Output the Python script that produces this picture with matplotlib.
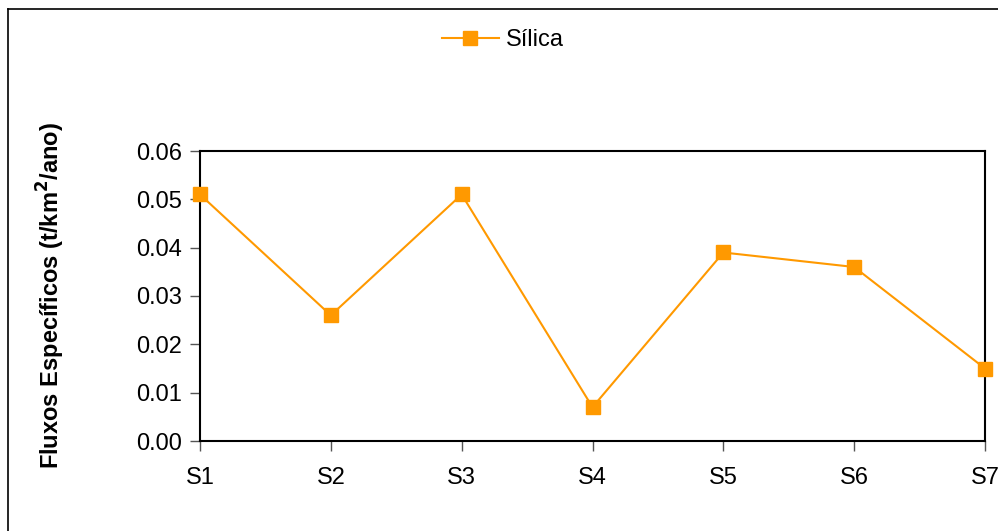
import matplotlib.pyplot as plt
from matplotlib.lines import Line2D

plt.rcParams['font.family'] = ['Liberation Sans', 'DejaVu Sans']

sites = ["S1", "S2", "S3", "S4", "S5", "S6", "S7"]
silica = [0.051, 0.026, 0.051, 0.007, 0.039, 0.036, 0.015]
yticks = [0.00, 0.01, 0.02, 0.03, 0.04, 0.05, 0.06]

fig = plt.figure(figsize=(9.98, 5.31), dpi=100)
ax = fig.add_axes([200/998, 1 - 441/531, 785/998, 290/531])

x = list(range(len(sites)))
ax.plot(x, silica, color='#FF9900', linewidth=1.5, marker='s', markersize=9.5,
        markeredgecolor='#FF9900', clip_on=False, label='Sílica', zorder=3)

ax.set_xlim(0, len(sites) - 1)
ax.set_ylim(0, 0.06)
ax.set_xticks(x)
ax.set_xticklabels(sites)
ax.set_yticks(yticks)
ax.set_yticklabels([f"{v:.2f}" for v in yticks])
ax.tick_params(axis='both', labelsize=17, length=7, width=1, color='#555555',
               direction='out')
ax.tick_params(axis='x', pad=12)
ax.tick_params(axis='y', pad=6)
for s in ax.spines.values():
    s.set_linewidth(1.5)
    s.set_color('black')

ax.set_ylabel("Fluxos Específicos (t/km$^\\mathbf{2}$/ano)", fontsize=17,
              fontweight='bold')
ax.yaxis.set_label_coords(-0.170, 0.5)

fig.legend(handles=ax.get_lines(), loc='center', bbox_to_anchor=(503/998, 1 - 40/531),
           frameon=False, fontsize=17, handlelength=2.4, handletextpad=0.3)

# outer chart frame (left and top edges visible)
fig.add_artist(Line2D([8/998, 8/998], [0, 1 - 9/531], color='black', linewidth=1.2,
                      transform=fig.transFigure))
fig.add_artist(Line2D([8/998, 1], [1 - 9/531, 1 - 9/531], color='black', linewidth=1.2,
                      transform=fig.transFigure))

fig.savefig("out.png", dpi=100)
